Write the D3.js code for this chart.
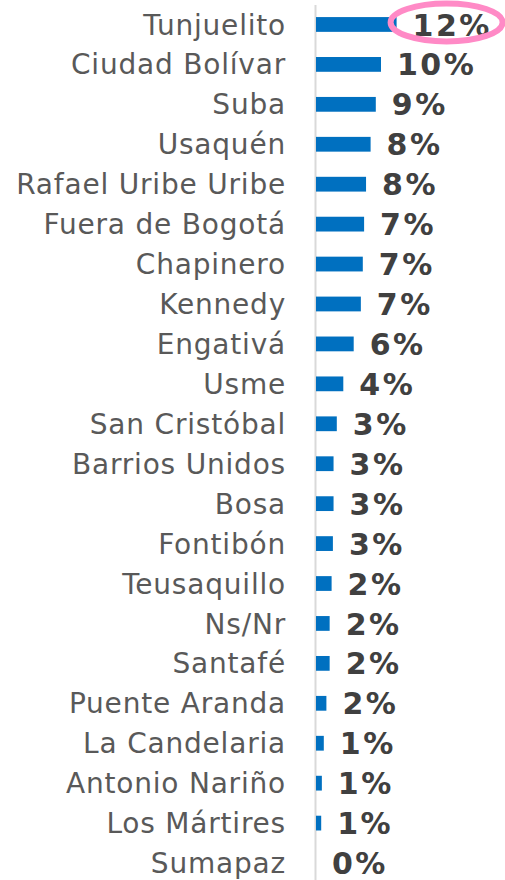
<!DOCTYPE html>
<html>
<head>
<meta charset="utf-8">
<script src="https://cdn.jsdelivr.net/npm/d3@7"></script>
<style>
  body { margin: 0; background: #fff; }
  svg { display: block; }
</style>
</head>
<body>
<svg id="chart" width="505" height="880"></svg>
<script>
// localidades, ordenadas de mayor a menor
var categories = ["Tunjuelito", "Ciudad Bolívar", "Suba", "Usaquén", "Rafael Uribe Uribe",
    "Fuera de Bogotá", "Chapinero", "Kennedy", "Engativá", "Usme", "San Cristóbal",
    "Barrios Unidos", "Bosa", "Fontibón", "Teusaquillo", "Ns/Nr", "Santafé",
    "Puente Aranda", "La Candelaria", "Antonio Nariño", "Los Mártires", "Sumapaz"];
var values = [12.4, 10.0, 9.2, 8.4, 7.7, 7.4, 7.2, 6.9, 5.8, 4.2, 3.2,
    2.7, 2.7, 2.6, 2.4, 2.1, 2.1, 1.6, 1.2, 0.9, 0.8, 0.0];
var valueLabels = ["12%", "10%", "9%", "8%", "8%", "7%", "7%", "7%", "6%", "4%", "3%",
    "3%", "3%", "3%", "2%", "2%", "2%", "2%", "1%", "1%", "1%", "0%"];

var data = categories.map(function (c, i) {
    return { name: c, value: values[i], label: valueLabels[i] };
});

var svg = d3.select("#chart");
var left = 315;

var y = d3.scaleBand()
    .domain(categories)
    .range([4.5, 883])
    .paddingInner(0.63)
    .paddingOuter(0.315);

var x = d3.scaleLinear()
    .domain([0, 14])
    .range([1, 92]);

var g = svg.append("g").attr("transform", "translate(" + left + ",0)");

var yAxis = g.append("g")
    .call(d3.axisLeft(y).tickSize(0).tickSizeOuter(0).tickPadding(29));
yAxis.select(".domain")
    .attr("stroke", "#d9d9d9")
    .attr("stroke-width", 2);
yAxis.selectAll("text")
    .attr("font-family", "DejaVu Sans, Verdana, sans-serif")
    .attr("font-size", 28)
    .attr("letter-spacing", 0.8)
    .attr("fill", "#595959")
    .attr("dy", "0.36em");

g.selectAll("rect.bar")
    .data(data)
    .enter().append("rect")
    .attr("class", "bar")
    .attr("x", x(0))
    .attr("y", function (d) { return y(d.name); })
    .attr("width", function (d) { return x(d.value) - x(0); })
    .attr("height", y.bandwidth())
    .attr("fill", "#0070c0");

g.selectAll("text.val")
    .data(data)
    .enter().append("text")
    .attr("class", "val")
    .attr("x", function (d) { return x(d.value) + 16; })
    .attr("y", function (d) { return y(d.name) + y.bandwidth() / 2; })
    .attr("dy", "0.37em")
    .attr("font-family", "DejaVu Sans, Verdana, sans-serif")
    .attr("font-weight", "bold")
    .attr("font-size", 30)
    .attr("letter-spacing", 2.5)
    .attr("fill", "#404040")
    .text(function (d) { return d.label; });

// resaltar el primer valor
var top1 = data[0];
g.append("ellipse")
    .attr("cx", x(top1.value) + 50)
    .attr("cy", y(top1.name) + y.bandwidth() / 2 - 2)
    .attr("rx", 56)
    .attr("ry", 19)
    .attr("fill", "none")
    .attr("stroke", "#ff8ac6")
    .attr("stroke-width", 6);
</script>
</body>
</html>
